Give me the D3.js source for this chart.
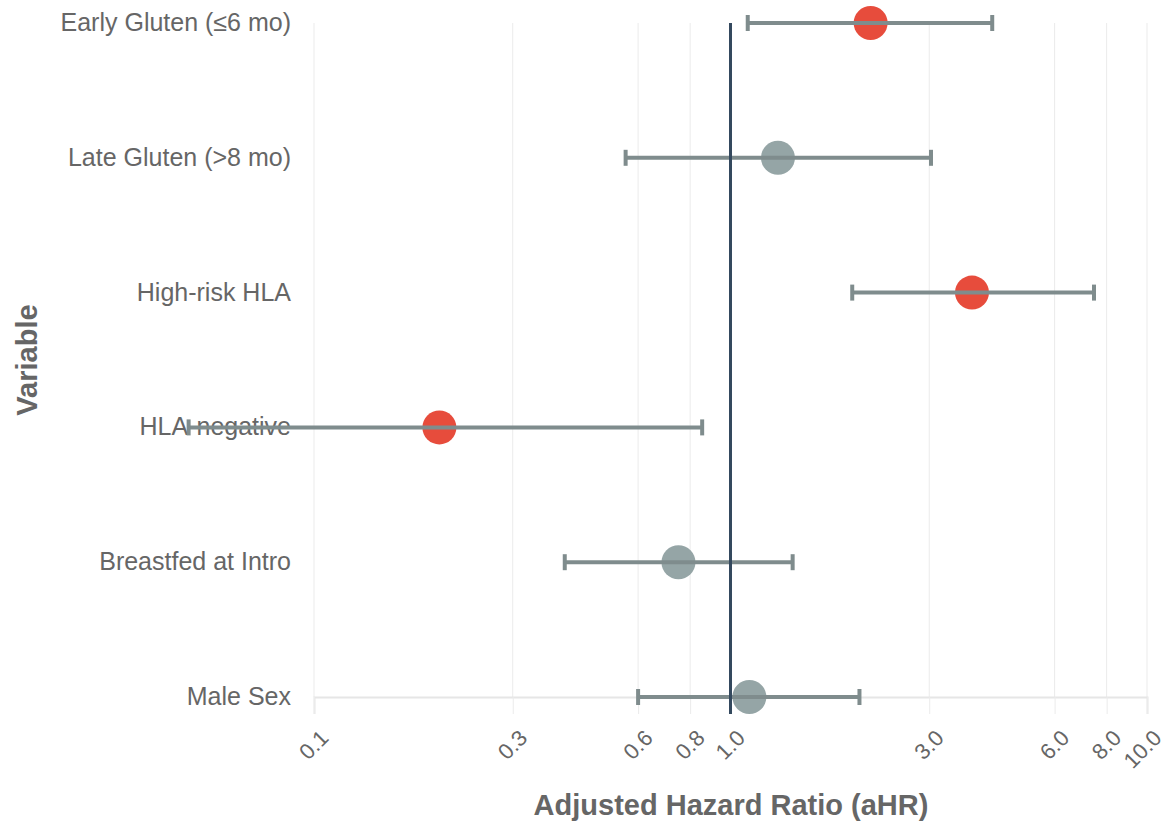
<!DOCTYPE html>
<html>
<head>
<meta charset="utf-8">
<script src="https://cdn.jsdelivr.net/npm/d3@7"></script>
<style>
  html, body { margin: 0; padding: 0; background: #fff; }
  svg { display: block; font-family: "Liberation Sans", Arial, sans-serif; }
</style>
</head>
<body>
<svg id="chart" width="1170" height="823"></svg>
<script>
const variables = ["Early Gluten (\u22646 mo)", "Late Gluten (>8 mo)", "High-risk HLA", "HLA-negative", "Breastfed at Intro", "Male Sex"];
const aHR = [2.17, 1.30, 3.80, 0.20, 0.75, 1.11];
const ciLow = [1.10, 0.56, 1.96, 0.05, 0.40, 0.60];
const ciHigh = [4.25, 3.03, 7.46, 0.855, 1.41, 2.04];
const significant = [true, false, true, true, false, false];
const tickValues = [0.1, 0.3, 0.6, 0.8, 1.0, 3.0, 6.0, 8.0, 10.0];

(function () {
const data = variables.map((v, i) => ({ v, hr: aHR[i], lo: ciLow[i], hi: ciHigh[i], sig: significant[i] }));

const svg = d3.select("#chart");
const pLeft = 314, pRight = 1147, pTop = 23, pBottom = 697;

const x = d3.scaleLog().domain([0.1, 10]).range([pLeft, pRight]);
const y = d3.scalePoint().domain(variables).range([pTop, pBottom]);

// vertical gridlines
svg.append("g").selectAll("line").data(tickValues).join("line")
  .attr("x1", d => x(d)).attr("x2", d => x(d))
  .attr("y1", pTop).attr("y2", pBottom)
  .attr("stroke", "#ebebeb").attr("stroke-width", 1);

// x axis
const xAxis = svg.append("g").attr("transform", `translate(0,${pBottom})`)
  .call(d3.axisBottom(x).tickValues(tickValues).tickFormat(d3.format(".1f")).tickSize(17).tickPadding(6));
xAxis.select(".domain").attr("stroke", "#e6e6e6").attr("stroke-width", 2);
xAxis.selectAll(".tick line").attr("stroke", "#ebebeb");
xAxis.selectAll(".tick text")
  .attr("fill", "#666").attr("font-size", 22)
  .attr("text-anchor", "end")
  .attr("x", 0).attr("y", 0)
  .attr("dy", "0.35em")
  .attr("transform", "translate(10,37) rotate(-45)");

// y labels
svg.append("g").selectAll("text").data(variables).join("text")
  .attr("x", 291).attr("y", d => y(d)).attr("dy", "0.32em")
  .attr("text-anchor", "end").attr("fill", "#666").attr("font-size", 25)
  .text(d => d);

// points
svg.append("g").selectAll("circle").data(data).join("circle")
  .attr("cx", d => x(d.hr)).attr("cy", d => y(d.v)).attr("r", 17)
  .attr("fill", d => d.sig ? "#e74c3c" : "#95a5a6");

// error bars
const eb = svg.append("g").attr("stroke", "#7f8c8d").attr("stroke-width", 4);
eb.selectAll("line.main").data(data).join("line").attr("class", "main")
  .attr("x1", d => x(d.lo)).attr("x2", d => x(d.hi))
  .attr("y1", d => y(d.v)).attr("y2", d => y(d.v));
eb.selectAll("line.capl").data(data).join("line").attr("class", "capl")
  .attr("x1", d => x(d.lo)).attr("x2", d => x(d.lo))
  .attr("y1", d => y(d.v) - 8).attr("y2", d => y(d.v) + 8);
eb.selectAll("line.caph").data(data).join("line").attr("class", "caph")
  .attr("x1", d => x(d.hi)).attr("x2", d => x(d.hi))
  .attr("y1", d => y(d.v) - 8).attr("y2", d => y(d.v) + 8);

// reference line
svg.append("line")
  .attr("x1", x(1)).attr("x2", x(1)).attr("y1", pTop).attr("y2", pBottom + 17)
  .attr("stroke", "#34495e").attr("stroke-width", 3);

// axis titles
svg.append("text").attr("x", 731).attr("y", 815)
  .attr("text-anchor", "middle").attr("font-size", 29).attr("font-weight", "bold").attr("fill", "#666")
  .text("Adjusted Hazard Ratio (aHR)");
svg.append("text").attr("transform", `translate(37,360) rotate(-90)`)
  .attr("text-anchor", "middle").attr("font-size", 29).attr("font-weight", "bold").attr("fill", "#666")
  .text("Variable");
})();
</script>
</body>
</html>
